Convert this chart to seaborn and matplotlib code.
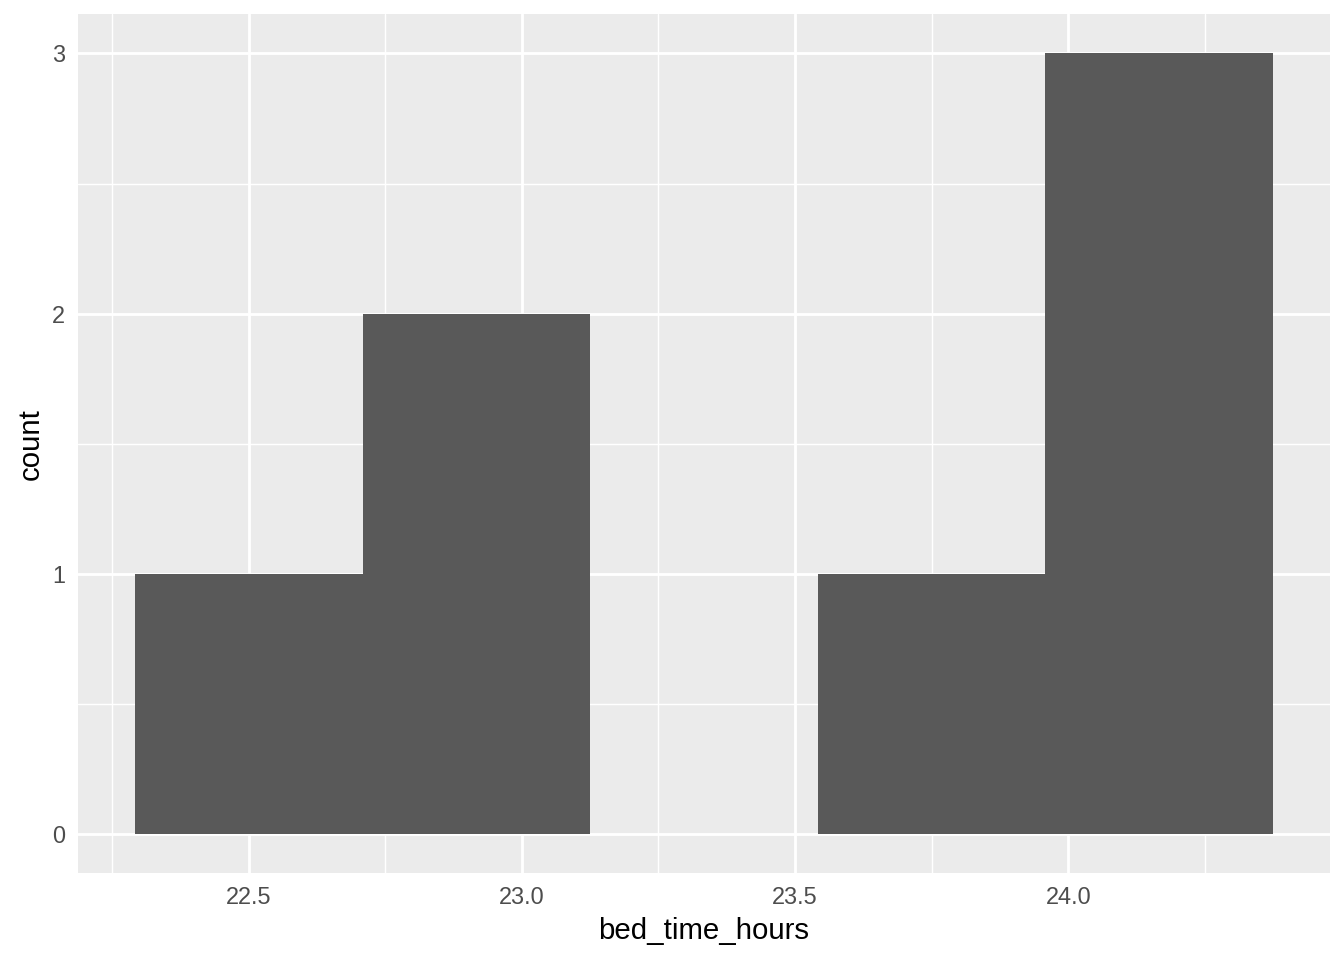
import numpy as np
import pandas as pd
import matplotlib
matplotlib.use("Agg")
import matplotlib.pyplot as plt
import seaborn as sns

# bed times in hours (values past midnight written as 24+)
bed_time_hours = [22.5, 22.75, 23.0, 23.75, 24.0, 24.0, 24.1667]
n_bins = 5

df = pd.DataFrame({"bed_time_hours": bed_time_hours})

# ggplot-style bins: first bin centred on the minimum
lo, hi = min(bed_time_hours), max(bed_time_hours)
width = (hi - lo) / (n_bins - 1)
edges = lo - width / 2 + width * np.arange(n_bins + 1)

sns.set_style("darkgrid", {"axes.facecolor": "#EBEBEB", "grid.color": "white"})
plt.rcParams["font.family"] = ["Liberation Sans", "DejaVu Sans"]

fig = plt.figure(figsize=(7, 5), dpi=192)
ax = fig.add_axes([0.058, 0.0906, 0.9316, 0.8944])

sns.histplot(data=df, x="bed_time_hours", bins=edges, color="#595959",
             alpha=1, edgecolor="none", linewidth=0, ax=ax)

span = edges[-1] - edges[0]
ax.set_xlim(edges[0] - 0.05 * span, edges[-1] + 0.05 * span)
ax.set_ylim(-0.15, 3.15)

ax.set_xticks([22.5, 23.0, 23.5, 24.0])
ax.set_xticklabels(["22.5", "23.0", "23.5", "24.0"])
ax.set_yticks([0, 1, 2, 3])
ax.set_xticks([22.25, 22.75, 23.25, 23.75, 24.25], minor=True)
ax.set_yticks([0.5, 1.5, 2.5], minor=True)

ax.grid(which="major", color="white", linewidth=1.07)
ax.grid(which="minor", color="white", linewidth=0.53)
ax.set_axisbelow(True)
for s in ax.spines.values():
    s.set_visible(False)

ax.tick_params(which="major", length=2.75, width=1.07, color="#333333",
               labelsize=8.8, labelcolor="#4D4D4D", pad=2.2)
ax.tick_params(which="minor", length=0)

ax.set_xlabel("bed_time_hours", fontsize=11, color="black", labelpad=2.75)
ax.set_ylabel("count", fontsize=11, color="black", labelpad=2.75)

fig.savefig("out.png", dpi=192)
